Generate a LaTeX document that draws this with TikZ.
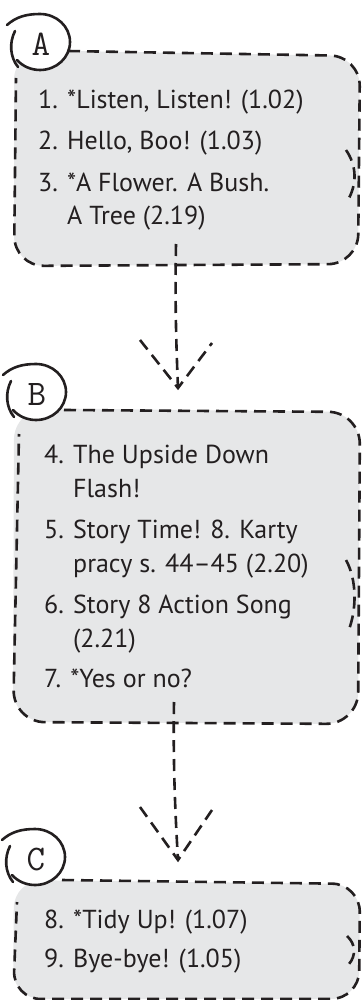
\documentclass[tikz,border=0pt]{standalone}
\usepackage{fontspec}
\setmainfont{PT Sans}
\definecolor{boxgray}{HTML}{E6E7E8}
\definecolor{ink}{HTML}{231F20}

\begin{document}
\begin{tikzpicture}[x=1pt,y=-1pt,
    dashline/.style={ink,line width=2.6pt,dash pattern=on 12pt off 7pt},
    ring/.style={ink,line width=2.6pt,line cap=round},
    item/.style={anchor=base west,inner sep=0pt,text=ink,font=\fontsize{26}{30}\selectfont},
    marklabel/.style={inner sep=0pt,text=ink,font=\ttfamily\fontsize{36}{36}\selectfont}]
        \useasboundingbox (0,0) rectangle (362,1000);

        \fill[boxgray,rounded corners=30] (14,50) -- (360,56) -- (358,264) -- (14,266) -- cycle;
        \draw[dashline,rounded corners=30] (68,51) -- (360,56) -- (358,264) -- (14,266) -- (16,78);
        \draw[dashline] (346,150) .. controls (357,166) and (357,184) .. (348,200);

        \fill[boxgray,rounded corners=32] (14,408) -- (360,412) -- (358,724) -- (13,722) -- cycle;
        \draw[dashline,rounded corners=32] (64,410) -- (360,412) -- (358,724) -- (13,722) -- (19,434);
        \draw[dashline] (346,560) .. controls (357,580) and (357,610) .. (348,632);

        \fill[boxgray,rounded corners=28] (14,880) -- (360,884) -- (359,999) -- (13,999) -- cycle;
        \draw[dashline,rounded corners=28] (62,880) -- (360,884) -- (359,999) -- (13,999) -- (17,902);
        \draw[dashline] (347,936) .. controls (356,944) and (356,956) .. (349,964);

        \foreach \l/\x/\y in {A/40/43, B/36/393, C/35/858} {
            \begin{scope}[shift={(\x,\y)}]
                \fill[white] (0,0) circle[x radius=29,y radius=27];
                \draw[ring] (-33,-18) .. controls (-24,-26) and (-14,-29) .. (0,-29)
                    arc[start angle=-90,end angle=140,x radius=30,y radius=28];
                \draw[ring] (-25,-12) .. controls (-31,0) and (-30,14) .. (-22,24);
                \node[marklabel] (m\l) at (1,1) {\l};
            \end{scope}
        }

        \node[item] (a1) at (38,109) {1. *Listen, Listen! (1.02)};
        \node[item] (a2) at (38,150) {2. Hello, Boo! (1.03)};
        \node[item] (a3) at (38,192) {3. *A Flower. A Bush.};
        \node[item] (a3b) at (38,225) {\phantom{3. }A Tree (2.19)};

        \node[item] (b4) at (44,463) {4. The Upside Down};
        \node[item] (b4b) at (44,497) {\phantom{4. }Flash!};
        \node[item] (b5) at (44,538) {5. Story Time! 8. Karty};
        \node[item] (b5b) at (44,572) {\phantom{5. }pracy s. 44–45 (2.20)};
        \node[item] (b6) at (44,613) {6. Story 8 Action Song};
        \node[item] (b6b) at (44,647) {\phantom{6. }(2.21)};
        \node[item] (b7) at (44,687) {7. *Yes or no?};

        \node[item] (c8) at (44,928) {8. *Tidy Up! (1.07)};
        \node[item] (c9) at (44,967) {9. Bye-bye! (1.05)};

        \coordinate (aS) at (176,244);
        \coordinate (bN) at (178,388);
        \coordinate (bS) at (174,702);
        \coordinate (cN) at (178,860);
        \draw[dashline] (aS) .. controls (175,300) and (176,340) .. (bN);
        \draw[dashline] (bN) ++(-38,-48) -- (bN) -- +(34,-45);
        \draw[dashline] (bS) .. controls (173,760) and (175,810) .. (cN);
        \draw[dashline] (cN) ++(-38,-53) -- (cN) -- +(34,-50);
\end{tikzpicture}
\end{document}
